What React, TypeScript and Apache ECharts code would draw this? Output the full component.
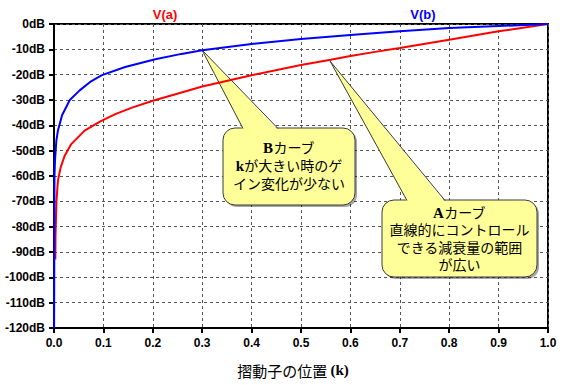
import React, { useEffect, useRef } from "react";
import * as echarts from "echarts";

// V(b): B curve
const kB = [0.0002, 0.001, 0.002, 0.0048, 0.008, 0.0163, 0.032, 0.052, 0.075, 0.097, 0.144, 0.205, 0.258, 0.3, 0.4, 0.5, 0.6, 0.7, 0.8, 0.9, 1.0];
const dbB = [-120, -60, -54, -46, -42, -36, -30, -26.2, -22.6, -20.2, -17, -13.9, -11.8, -10.4, -7.9, -5.9, -4.3, -2.9, -1.6, -0.8, 0];

// V(a): A curve
const kA = [0.0027, 0.003, 0.005, 0.007, 0.008, 0.0135, 0.0216, 0.035, 0.062, 0.093, 0.124, 0.158, 0.2, 0.246, 0.3, 0.4, 0.5, 0.56, 0.6, 0.65, 0.7, 0.8, 0.9, 1.0];
const dbA = [-93, -84, -70, -64.4, -61.8, -56.6, -52, -47.4, -42.1, -38.5, -35.6, -33, -30.3, -27.7, -24.7, -20.2, -16.2, -14.1, -12.6, -11, -9.5, -6.2, -2.9, 0];

const seriesNames = ["V(a)", "V(b)"];
const xAxisTitle = "摺動子の位置 {k|(k)}";
const calloutBLines = ["{s|B}カーブ", "{s|k}が大きい時のゲ", "イン変化が少ない"];
const calloutALines = ["{s|A}カーブ", "直線的にコントロール", "できる減衰量の範囲", "が広い"];

const YELLOW = "#ffff99";
const EDGE = "#3a3a3a";
const CALLOUT_FONT = '"Liberation Sans", "Noto Sans CJK JP"';

function callout(box: { x: number; y: number; w: number; h: number }, tip: number[], baseL: number, baseR: number, lines: string[], firstY: number, lh: number, fs: number) {
  const els: any[] = [
    { type: "rect", z: 1, shape: { x: box.x + 2, y: box.y + 2, width: box.w, height: box.h, r: 12 }, style: { fill: "rgba(0,0,0,0.35)" } },
    { type: "rect", z: 1, shape: { x: box.x, y: box.y, width: box.w, height: box.h, r: 12 }, style: { fill: YELLOW, stroke: EDGE, lineWidth: 1 } },
    { type: "polygon", z: 1, shape: { points: [tip, [baseL, box.y + 2], [baseR, box.y + 2]] }, style: { fill: YELLOW } },
    { type: "polyline", z: 1, shape: { points: [[baseL, box.y + 0.5], tip, [baseR, box.y + 0.5]] }, style: { stroke: EDGE, lineWidth: 1, fill: "none" } },
  ];
  lines.forEach((t, i) => {
    els.push({
      type: "text",
      z: 1,
      x: box.x + box.w / 2,
      y: firstY + i * lh,
      style: {
        text: t,
        fill: "#000",
        fontSize: fs,
        fontFamily: CALLOUT_FONT,
        textAlign: "center",
        textVerticalAlign: "middle",
        align: "center",
        verticalAlign: "middle",
        rich: {
          s: { fontFamily: "Liberation Serif", fontWeight: "bold", fontSize: fs + 1, fill: "#000" },
        },
      },
    });
  });
  return els;
}

export default function App() {
  const ref = useRef<HTMLDivElement>(null);
  useEffect(() => {
    if (!ref.current) return;
    const chart = echarts.init(ref.current, undefined, { renderer: "svg" });
    const axisLabelStyle = { color: "#000", fontFamily: "Liberation Sans", fontWeight: "bold", fontSize: 12 };
    chart.setOption({
      animation: false,
      backgroundColor: "#fff",
      grid: { left: 54, right: 20, top: 24, bottom: 57, show: true, borderColor: "#000", borderWidth: 2, backgroundColor: "transparent" },
      xAxis: {
        type: "value",
        min: 0,
        max: 1,
        interval: 0.1,
        axisLine: { show: true, onZero: false, lineStyle: { color: "#000", width: 2 } },
        axisTick: { show: true, length: 5, lineStyle: { color: "#000", width: 2 } },
        axisLabel: { ...axisLabelStyle, margin: 9, formatter: (v: number) => v.toFixed(1) },
        splitLine: { show: true, lineStyle: { color: "#555", type: [3, 3], width: 1 } },
      },
      yAxis: {
        type: "value",
        min: -120,
        max: 0,
        interval: 10,
        axisLine: { show: true, onZero: false, lineStyle: { color: "#000", width: 2 } },
        axisTick: { show: true, length: 5, lineStyle: { color: "#000", width: 2 } },
        axisLabel: { ...axisLabelStyle, margin: 9, formatter: (v: number) => `${v}dB` },
        splitLine: { show: true, lineStyle: { color: "#555", type: [3, 3], width: 1 } },
      },
      series: [
        {
          name: seriesNames[0],
          type: "line",
          showSymbol: false,
          symbol: "none",
          z: 3,
          lineStyle: { color: "#ff0000", width: 2 },
          itemStyle: { color: "#ff0000" },
          data: kA.map((k, i) => [k, dbA[i]]),
        },
        {
          name: seriesNames[1],
          type: "line",
          showSymbol: false,
          symbol: "none",
          z: 4,
          lineStyle: { color: "#0000ff", width: 2 },
          itemStyle: { color: "#0000ff" },
          data: kB.map((k, i) => [k, dbB[i]]),
        },
      ],
      graphic: [
        {
          type: "text",
          x: 165,
          y: 14,
          style: { text: seriesNames[0], fill: "#ff0000", font: 'bold 13px "Liberation Sans"', textAlign: "center", textVerticalAlign: "middle", align: "center", verticalAlign: "middle" },
        },
        {
          type: "text",
          x: 423,
          y: 14,
          style: { text: seriesNames[1], fill: "#0000ff", font: 'bold 13px "Liberation Sans"', textAlign: "center", textVerticalAlign: "middle", align: "center", verticalAlign: "middle" },
        },
        {
          type: "text",
          x: 293,
          y: 370,
          style: {
            text: xAxisTitle,
            fill: "#000",
            fontSize: 15,
            fontFamily: "Noto Sans CJK JP",
            textAlign: "center",
            textVerticalAlign: "middle",
            align: "center",
            verticalAlign: "middle",
            rich: { k: { fontFamily: "Liberation Serif", fontWeight: "bold", fontSize: 15, fill: "#000" } },
          },
        },
        ...callout({ x: 223, y: 128, w: 132, h: 77 }, [202, 50], 243, 278, calloutBLines, 148, 18, 14),
        ...callout({ x: 382, y: 200, w: 155, h: 77 }, [330, 61], 407, 445, calloutALines, 212.5, 17.5, 14),
      ],
    });
    return () => chart.dispose();
  }, []);
  return <div ref={ref} style={{ position: "fixed", left: 0, top: 0, width: 568, height: 385, background: "#fff" }} />;
}
